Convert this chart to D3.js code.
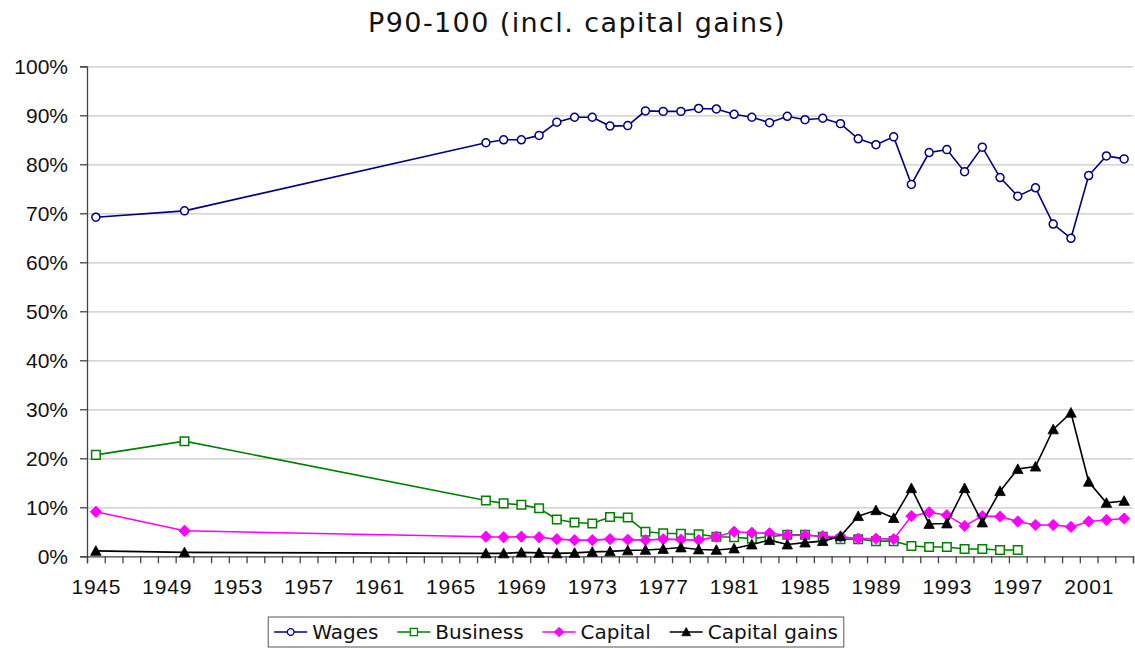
<!DOCTYPE html>
<html>
<head>
<meta charset="utf-8">
<script src="https://cdn.jsdelivr.net/npm/d3@7"></script>
<style>
  body { margin: 0; background: #fff; }
  svg { display: block; font-family: "DejaVu Sans", sans-serif; }
  .grid line { stroke: #c8c8c8; stroke-width: 1.3; }
  .grid .domain { display: none; }
  .axis .domain, .axis line { stroke: #444; stroke-width: 1.3; }
  .axis text { fill: #111; font-size: 21px; }
</style>
</head>
<body>
<script>
// years shown on the chart (gap between 1950 and 1967)
var years = [1945, 1950, 1967, 1968, 1969, 1970, 1971, 1972, 1973, 1974, 1975, 1976,
  1977, 1978, 1979, 1980, 1981, 1982, 1983, 1984, 1985, 1986, 1987, 1988, 1989,
  1990, 1991, 1992, 1993, 1994, 1995, 1996, 1997, 1998, 1999, 2000, 2001, 2002, 2003];

var wages = [69.2, 70.5, 84.4, 85.0, 85.0, 85.9, 88.6, 89.6, 89.6, 87.8, 87.9, 90.9,
  90.8, 90.8, 91.4, 91.3, 90.2, 89.6, 88.5, 89.8, 89.1, 89.4, 88.3, 85.2, 84.0,
  85.6, 75.9, 82.4, 83.0, 78.5, 83.5, 77.3, 73.5, 75.2, 67.8, 64.9, 77.7, 81.7, 81.1];

var business = [20.7, 23.5, 11.4, 10.8, 10.5, 9.8, 7.5, 6.9, 6.7, 8.0, 7.9, 5.0,
  4.7, 4.6, 4.5, 4.0, 3.9, 3.6, 4.0, 4.4, 4.4, 4.0, 3.5, 3.5, 3.1,
  3.1, 2.1, 1.9, 1.9, 1.5, 1.5, 1.3, 1.3, null, null, null, null, null, null];

var capital = [9.1, 5.2, 4.0, 3.9, 4.0, 3.9, 3.5, 3.3, 3.3, 3.5, 3.4, 3.3,
  3.5, 3.4, 3.3, 4.0, 5.0, 4.8, 4.7, 4.3, 4.3, 4.1, 4.0, 3.6, 3.6,
  3.5, 8.2, 9.0, 8.4, 6.2, 8.2, 8.1, 7.1, 6.4, 6.4, 6.0, 7.1, 7.4, 7.7];

var capitalGains = [1.1, 0.8, 0.6, 0.6, 0.8, 0.7, 0.6, 0.7, 0.9, 1.0, 1.2, 1.3,
  1.5, 1.8, 1.4, 1.3, 1.6, 2.4, 3.3, 2.4, 2.8, 3.1, 4.1, 8.2, 9.4,
  7.8, 13.9, 6.6, 6.7, 13.9, 6.9, 13.3, 17.8, 18.3, 25.9, 29.3, 15.2, 10.9, 11.3];

var yearLabels = [1945, 1949, 1953, 1957, 1961, 1965, 1969, 1973, 1977, 1981, 1985, 1989, 1993, 1997, 2001];
var yTicks = [0, 10, 20, 30, 40, 50, 60, 70, 80, 90, 100];

var w = 1135, h = 649;
var margin = {top: 66.3, left: 87, right: 2, bottom: 92.7};
var width = w - margin.left - margin.right;
var height = h - margin.top - margin.bottom;

var series = [
  {name: "Wages", values: wages, color: "#000080", marker: "circle"},
  {name: "Business", values: business, color: "#008000", marker: "square"},
  {name: "Capital", values: capital, color: "#ff00ff", marker: "diamond"},
  {name: "Capital gains", values: capitalGains, color: "#000000", marker: "triangle"}
];

// each year is a category slot, points sit in the middle of the slot
var x = d3.scaleLinear().domain([1944.5, 2003.5]).range([0, width]);
var y = d3.scaleLinear().domain([0, 100]).range([height, 0]);

var svg = d3.select("body").append("svg").attr("width", w).attr("height", h);

svg.append("text")
  .attr("x", 577).attr("y", 32)
  .attr("text-anchor", "middle")
  .style("font-size", "27px")
  .style("letter-spacing", "1.4px")
  .attr("fill", "#111")
  .text("P90-100 (incl. capital gains)");

var chart = svg.append("g").attr("transform", "translate(" + margin.left + "," + margin.top + ")");

chart.append("g").attr("class", "grid")
  .call(d3.axisLeft(y).tickValues(yTicks.slice(1)).tickSize(-width).tickFormat(""));

// y axis
chart.append("g").attr("class", "axis")
  .call(d3.axisLeft(y).tickValues(yTicks).tickSize(7).tickPadding(12)
    .tickFormat(function(d){ return d + "%"; }));

// x axis: tick marks between the yearly slots
chart.append("g").attr("class", "axis")
  .attr("transform", "translate(0," + height + ")")
  .call(d3.axisBottom(x).tickValues(d3.range(1944.5, 2004, 1)).tickSize(7).tickFormat(""));

chart.append("g").attr("class", "axis")
  .attr("transform", "translate(0," + height + ")")
  .call(d3.axisBottom(x).tickValues(yearLabels).tickSize(0).tickPadding(23).tickFormat(d3.format("d")))
  .call(function(g){ g.select(".domain").remove(); })
  .selectAll("text").style("font-size", "21px").style("letter-spacing", "0.8px");

function markerPath(type, s) {
  var p = d3.path();
  if (type === "circle") {
    p.arc(0, 0, s * 0.42, 0, 2 * Math.PI);
  } else if (type === "square") {
    var a = s * 0.45;
    p.rect(-a, -a, 2 * a, 2 * a);
  } else if (type === "diamond") {
    var d = s * 0.6;
    p.moveTo(0, -d); p.lineTo(d, 0); p.lineTo(0, d); p.lineTo(-d, 0); p.closePath();
  } else {
    var t = s * 0.55;
    p.moveTo(0, -t); p.lineTo(t, t * 0.85); p.lineTo(-t, t * 0.85); p.closePath();
  }
  return p.toString();
}

var line = d3.line()
  .defined(function(d){ return d.v != null; })
  .x(function(d){ return x(d.year); })
  .y(function(d){ return y(d.v); });

series.forEach(function(s){
  var pts = years.map(function(yr, i){ return {year: yr, v: s.values[i]}; });
  var g = chart.append("g");
  g.append("path")
    .datum(pts)
    .attr("fill", "none")
    .attr("stroke", s.color)
    .attr("stroke-width", 1.6)
    .attr("d", line);
  g.selectAll(".pt")
    .data(pts.filter(function(d){ return d.v != null; }))
    .enter().append("path")
    .attr("class", "pt")
    .attr("transform", function(d){ return "translate(" + x(d.year) + "," + y(d.v) + ")"; })
    .attr("d", markerPath(s.marker, 9.5))
    .attr("fill", (s.marker === "circle" || s.marker === "square") ? "#fff" : s.color)
    .attr("stroke", s.color)
    .attr("stroke-width", (s.marker === "circle" || s.marker === "square") ? 1.5 : 0.8);
});

// legend
var legend = svg.append("g");
var lx = 0;
series.forEach(function(s){
  var item = legend.append("g").attr("transform", "translate(" + lx + ",0)");
  item.append("line").attr("x1", 0).attr("x2", 33).attr("y1", 0).attr("y2", 0)
    .attr("stroke", s.color).attr("stroke-width", 1.6);
  item.append("path").attr("transform", "translate(16.5,0)")
    .attr("d", markerPath(s.marker, 8))
    .attr("fill", (s.marker === "circle" || s.marker === "square") ? "#fff" : s.color)
    .attr("stroke", s.color)
    .attr("stroke-width", (s.marker === "circle" || s.marker === "square") ? 1.3 : 0.8);
  var t = item.append("text").attr("x", 38).attr("y", 7)
    .style("font-size", "20px").attr("fill", "#111").text(s.name);
  lx += 38 + t.node().getComputedTextLength() + 19;
});
var lw = lx - 19;
var lx0 = 556 - lw / 2;
legend.attr("transform", "translate(" + lx0 + ",632)");
legend.insert("rect", ":first-child")
  .attr("x", -6).attr("y", -15).attr("width", lw + 12).attr("height", 30)
  .attr("fill", "#fff").attr("stroke", "#555").attr("stroke-width", 1);
</script>
</body>
</html>
